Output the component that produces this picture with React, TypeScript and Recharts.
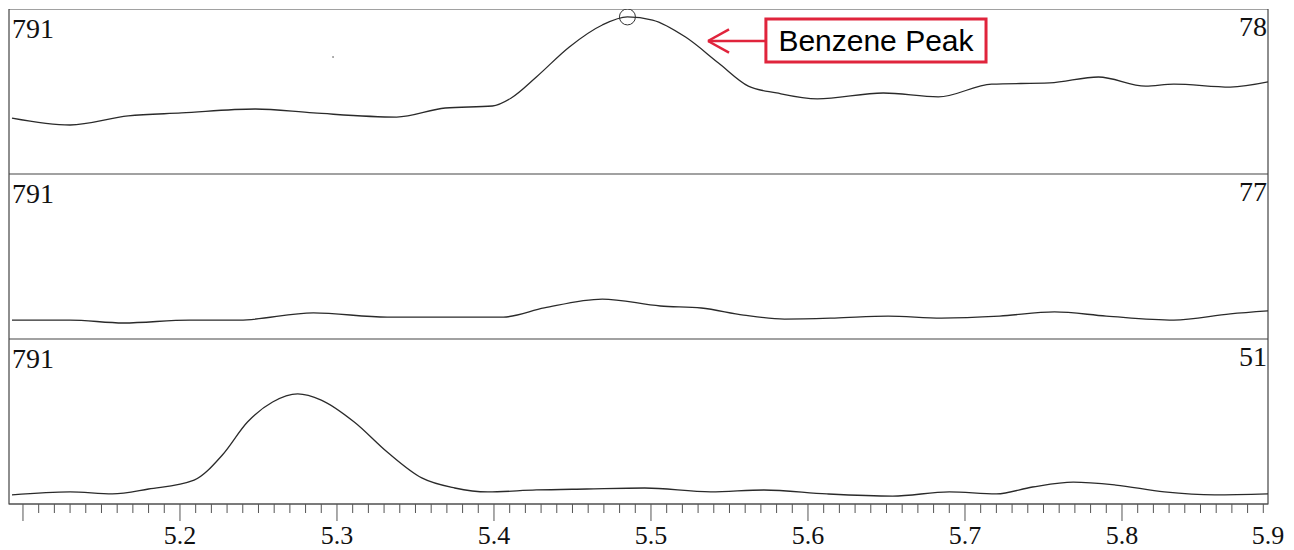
import React from 'react';
import { LineChart, Line, XAxis, YAxis, ReferenceArea, ReferenceDot, ReferenceLine, Label } from 'recharts';

// Retention time (min) and relative abundance (% of panel full scale)
const TIME_1 = [5.093, 5.130, 5.167, 5.201, 5.248, 5.285, 5.338, 5.369, 5.399, 5.411, 5.427, 5.448, 5.469, 5.485, 5.501, 5.522, 5.543, 5.562, 5.580, 5.606, 5.648, 5.683, 5.717, 5.754, 5.785, 5.815, 5.833, 5.869, 5.893];
const ABUND_1 = [33.9, 29.7, 35.2, 37.0, 39.4, 37.0, 34.5, 40.0, 41.2, 46.1, 58.8, 77.0, 90.3, 95.2, 93.3, 83.0, 67.3, 53.3, 49.1, 45.5, 49.1, 46.7, 54.5, 55.2, 58.8, 53.3, 54.5, 52.7, 55.8];

const TIME_2 = [5.093, 5.130, 5.164, 5.206, 5.238, 5.285, 5.332, 5.369, 5.406, 5.432, 5.469, 5.506, 5.532, 5.559, 5.585, 5.617, 5.651, 5.685, 5.722, 5.757, 5.790, 5.833, 5.869, 5.893];
const ABUND_2 = [11.5, 11.5, 9.7, 11.5, 11.5, 15.8, 13.3, 13.3, 13.3, 18.8, 24.2, 20.0, 18.8, 14.5, 12.1, 12.7, 13.9, 12.7, 13.9, 16.4, 13.9, 11.5, 15.2, 17.0];

const TIME_3 = [5.093, 5.130, 5.157, 5.180, 5.209, 5.227, 5.243, 5.259, 5.275, 5.290, 5.311, 5.332, 5.354, 5.375, 5.396, 5.427, 5.459, 5.496, 5.538, 5.572, 5.612, 5.654, 5.690, 5.720, 5.743, 5.769, 5.796, 5.827, 5.859, 5.893];
const ABUND_3 = [5.5, 7.3, 6.1, 9.1, 14.5, 29.7, 49.7, 61.8, 66.7, 63.0, 49.7, 31.5, 15.8, 9.7, 7.3, 8.5, 9.1, 9.7, 7.3, 8.5, 6.1, 4.8, 7.3, 6.1, 10.3, 13.3, 11.5, 7.3, 5.5, 6.1];

const LEFT_LABELS = ['791', '791', '791'];
const RIGHT_LABELS = ['78', '77', '51'];
const MAJOR_LABELS = ['5.2', '5.3', '5.4', '5.5', '5.6', '5.7', '5.8'];
const END_LABEL = '5.9';

const X_MIN = 5.0911;
const X_MAX = 5.893;
const TICKS: number[] = [];
for (let i = 510; i <= 589; i++) TICKS.push(i / 100);
TICKS.push(X_MAX);

const PEAK_T = 5.485;
const PEAK_V = 95.2;

const toData = (t: number[], v: number[]) => t.map((x, i) => ({ t: x, v: v[i] }));
const DATA = [toData(TIME_1, ABUND_1), toData(TIME_2, ABUND_2), toData(TIME_3, ABUND_3)];

const SERIF = "'Liberation Serif', 'Times New Roman', serif";
const SANS = "'Liberation Sans', Arial, sans-serif";
const RED = '#e0243c';
const W = 1294;
const MARGIN = { top: 0, left: 9, right: 26, bottom: 0 };

const Tick = (props: any) => {
  const { x, y, payload } = props;
  const v: number = payload.value;
  const ts = { fontFamily: SERIF, fontSize: 26 };
  if (v === X_MAX) {
    return (
      <text x={x} y={y + 40} textAnchor="middle" style={ts} fill="#111">{END_LABEL}</text>
    );
  }
  const h = Math.round(v * 100);
  const major = h % 10 === 0;
  const label = MAJOR_LABELS.find((s) => Math.round(parseFloat(s) * 100) === h);
  return (
    <g>
      <line x1={x} x2={x} y1={y} y2={y + (major ? 17 : 9)} stroke="#555" strokeWidth={1} />
      {label && (
        <text x={x} y={y + 40} textAnchor="middle" style={ts} fill="#111">{label}</text>
      )}
    </g>
  );
};

const labelStyle = { fontFamily: SERIF, fontSize: 28 };

const Panel = ({ idx, top, showAxis }: { idx: number; top: number; showAxis: boolean }) => (
  <div style={{ position: 'absolute', left: 0, top }}>
    <LineChart width={W} height={showAxis ? 211 : 165} data={DATA[idx]} margin={MARGIN}>
      <XAxis
        dataKey="t"
        type="number"
        domain={[X_MIN, X_MAX]}
        allowDataOverflow
        hide={!showAxis}
        ticks={TICKS}
        interval={0}
        height={46}
        tickSize={0}
        tickMargin={0}
        tickLine={false}
        axisLine={{ stroke: '#555' }}
        tick={(p: any) => <Tick {...p} />}
      />
      <YAxis type="number" domain={[0, 100]} hide allowDataOverflow />
      <ReferenceArea x1={X_MIN} x2={X_MAX} y1={0} y2={100} fill="none" stroke="#444" strokeWidth={1.2}>
        <Label value={LEFT_LABELS[idx]} position="insideTopLeft" offset={3} dy={6} style={labelStyle} fill="#111" />
        <Label value={RIGHT_LABELS[idx]} position="insideTopRight" offset={1} dy={6} style={labelStyle} fill="#111" />
      </ReferenceArea>
      <Line type="monotone" dataKey="v" stroke="#2a2a2a" strokeWidth={1.3} dot={false} isAnimationActive={false} />
      {idx === 0 && <ReferenceDot x={PEAK_T} y={PEAK_V} r={8} fill="none" stroke="#333" strokeWidth={1} />}
      {idx === 0 && <ReferenceDot x={5.2975} y={70.9} r={0.8} fill="#444" stroke="none" />}
      {idx === 0 && (
        <ReferenceLine segment={[{ x: 5.5363, y: 80.6 }, { x: 5.5732, y: 80.6 }]} stroke={RED} strokeWidth={2.5} />
      )}
      {idx === 0 && (
        <ReferenceLine segment={[{ x: 5.5363, y: 80.6 }, { x: 5.5497, y: 87.6 }]} stroke={RED} strokeWidth={2.5} />
      )}
      {idx === 0 && (
        <ReferenceLine segment={[{ x: 5.5363, y: 80.6 }, { x: 5.5497, y: 73.6 }]} stroke={RED} strokeWidth={2.5} />
      )}
      {idx === 0 && (
        <ReferenceArea x1={5.5732} x2={5.7134} y1={67.9} y2={93.9} fill="#fff" fillOpacity={1} stroke={RED} strokeWidth={3}>
          <Label value="Benzene Peak" position="center" style={{ fontFamily: SANS, fontSize: 30 }} fill="#000" />
        </ReferenceArea>
      )}
    </LineChart>
  </div>
);

export default function App() {
  return (
    <div style={{ position: 'absolute', left: 0, top: 0, width: W, height: 550, background: '#fff' }}>
      <Panel idx={0} top={9} showAxis={false} />
      <Panel idx={1} top={174} showAxis={false} />
      <Panel idx={2} top={339} showAxis={true} />
    </div>
  );
}
